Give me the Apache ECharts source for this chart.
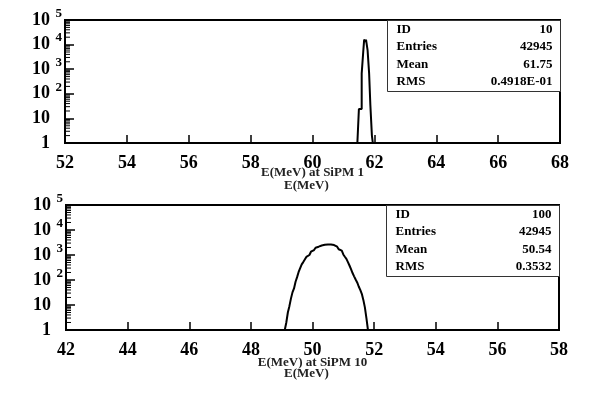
<!DOCTYPE html>
<html>
<head>
<meta charset="utf-8">
<script src="https://cdn.jsdelivr.net/npm/echarts@6/dist/echarts.min.js"></script>
<style>
  html, body { margin: 0; padding: 0; background: #fff; }
  #chart { width: 593px; height: 398px; }
</style>
</head>
<body>
<div id="chart"></div>
<script>
// histogram 1: E(MeV) at SiPM 1 (left bin edges, counts)
const topEdges = [61.45, 61.50, 61.59, 61.64, 61.67, 61.71, 61.73, 61.78, 61.83, 61.87, 61.92, 61.95];
const topCounts = [1, 24, 680, 5100, 16000, 13000, 16000, 6000, 680, 35, 2, 1];

// histogram 2: E(MeV) at SiPM 10
const bottomEdges = [49.10, 49.15, 49.20, 49.25, 49.30, 49.35, 49.40, 49.45, 49.50, 49.55, 49.60,
  49.65, 49.70, 49.75, 49.80, 49.85, 49.90, 49.95, 50.00, 50.05, 50.10, 50.15, 50.20, 50.25, 50.30,
  50.35, 50.40, 50.45, 50.50, 50.55, 50.60, 50.65, 50.70, 50.75, 50.80, 50.85, 50.90, 50.95, 51.00,
  51.05, 51.10, 51.15, 51.20, 51.25, 51.30, 51.35, 51.40, 51.45, 51.50, 51.55, 51.60, 51.65, 51.70,
  51.75, 51.80];
const bottomCounts = [1, 2, 5, 9, 18, 32, 46, 85, 130, 210, 300,
  420, 520, 660, 840, 1000, 1180, 1350, 1580, 1760, 1960, 2150, 2280, 2400, 2480,
  2550, 2600, 2640, 2650, 2640, 2600, 2500, 2350, 2150, 1950, 1700, 1500, 1250, 1050,
  850, 700, 520, 380, 270, 190, 140, 105, 80, 55, 40, 28, 16, 8,
  3, 1];

const topStats = [['ID', '10'], ['Entries', '42945'], ['Mean', '61.75'], ['RMS', '0.4918E-01']];
const bottomStats = [['ID', '100'], ['Entries', '42945'], ['Mean', '50.54'], ['RMS', '0.3532']];

const topRange = [52, 68];
const bottomRange = [42, 58];
const decades = [1, 10, 100, 1000, 10000];
const minorSteps = [2, 3, 4, 5, 6, 7, 8, 9];

const serif = '"Liberation Serif", "DejaVu Serif", serif';

const minorTicks = [];
decades.forEach(d => minorSteps.forEach(m => minorTicks.push(m * d)));

function xAxisFor(range, idx, name, gap) {
  return {
    type: 'value', gridIndex: idx, min: range[0], max: range[1], interval: 2,
    splitLine: { show: false },
    axisLine: { lineStyle: { color: '#000', width: 2 } },
    axisTick: { inside: true, length: 8, lineStyle: { color: '#000', width: 1.5 } },
    axisLabel: { color: '#000', fontFamily: serif, fontWeight: 'bold', fontSize: 18, margin: 11 },
    name: name, nameLocation: 'middle', nameGap: gap, nameMoveOverlap: false,
    nameTextStyle: { color: '#222', fontFamily: serif, fontWeight: 'bold', fontSize: 13 }
  };
}

function yAxisFor(idx) {
  return {
    type: 'log', gridIndex: idx, logBase: 10, min: 1, max: 100000, splitNumber: 5,
    splitLine: { show: false },
    axisLine: { lineStyle: { color: '#000', width: 2 } },
    axisTick: { inside: true, length: 9, lineStyle: { color: '#000', width: 1.5 } },
    axisLabel: {
      margin: 3,
      formatter: v => {
        const e = Math.round(Math.log10(v));
        if (e === 0) return '{b|1}{s| }';
        if (e === 1) return '{b|10}{s| }';
        return '{b|10}{s|' + e + '}';
      },
      rich: {
        b: { color: '#000', fontFamily: serif, fontWeight: 'bold', fontSize: 18 },
        s: { color: '#000', fontFamily: serif, fontWeight: 'bold', fontSize: 13, width: 12, align: 'right', padding: [0, 0, 13, 0] }
      }
    }
  };
}

function histSeries(idx, edges, counts) {
  return {
    type: 'line', xAxisIndex: idx, yAxisIndex: idx, step: 'end', showSymbol: false,
    data: edges.map((x, i) => [x, counts[i]]),
    lineStyle: { color: '#000', width: 2 }, silent: true, animation: false
  };
}

function minorSeries(idx, range) {
  return {
    type: 'custom', xAxisIndex: idx, yAxisIndex: idx, silent: true, animation: false,
    data: minorTicks.map(v => [range[0], v]),
    renderItem: (params, api) => {
      const p = api.coord([api.value(0), api.value(1)]);
      return { type: 'line', shape: { x1: p[0], y1: p[1], x2: p[0] + 5, y2: p[1] },
        style: { stroke: '#000', lineWidth: 1 } };
    }
  };
}

function statsBox(left, top, rows) {
  const w = 173, rowH = 17.5;
  const children = [{ type: 'rect', shape: { x: 0, y: 0, width: w, height: rows.length * rowH + 1 },
    style: { fill: '#fff', stroke: '#333', lineWidth: 1 } }];
  rows.forEach((r, i) => {
    const y = 9 + i * rowH;
    const font = 'bold 13px ' + serif;
    children.push({ type: 'text', style: { x: 9, y: y, text: r[0], font: font, fill: '#000', verticalAlign: 'middle' } });
    children.push({ type: 'text', style: { x: w - 8, y: y, text: r[1], font: font, fill: '#000', align: 'right', verticalAlign: 'middle' } });
  });
  return { type: 'group', left: left, top: top, children: children };
}

const chart = echarts.init(document.getElementById('chart'));
chart.setOption({
  backgroundColor: '#fff',
  animation: false,
  grid: [
    { left: 65, top: 20, width: 495, height: 123, show: true, borderColor: '#000', borderWidth: 2, backgroundColor: 'transparent' },
    { left: 66, top: 205, width: 493, height: 125, show: true, borderColor: '#000', borderWidth: 2, backgroundColor: 'transparent' }
  ],
  xAxis: [xAxisFor(topRange, 0, 'E(MeV) at SiPM 1', 23), xAxisFor(bottomRange, 1, 'E(MeV) at SiPM 10', 26)],
  yAxis: [yAxisFor(0), yAxisFor(1)],
  series: [
    histSeries(0, topEdges, topCounts),
    histSeries(1, bottomEdges, bottomCounts),
    minorSeries(0, topRange),
    minorSeries(1, bottomRange)
  ],
  graphic: [
    statsBox(387, 20, topStats),
    statsBox(386, 205, bottomStats),
    { type: 'text', left: 284, top: 179, style: { text: 'E(MeV)', font: 'bold 13px ' + serif, fill: '#222' } },
    { type: 'text', left: 284, top: 367, style: { text: 'E(MeV)', font: 'bold 13px ' + serif, fill: '#222' } }
  ]
});
</script>
</body>
</html>
